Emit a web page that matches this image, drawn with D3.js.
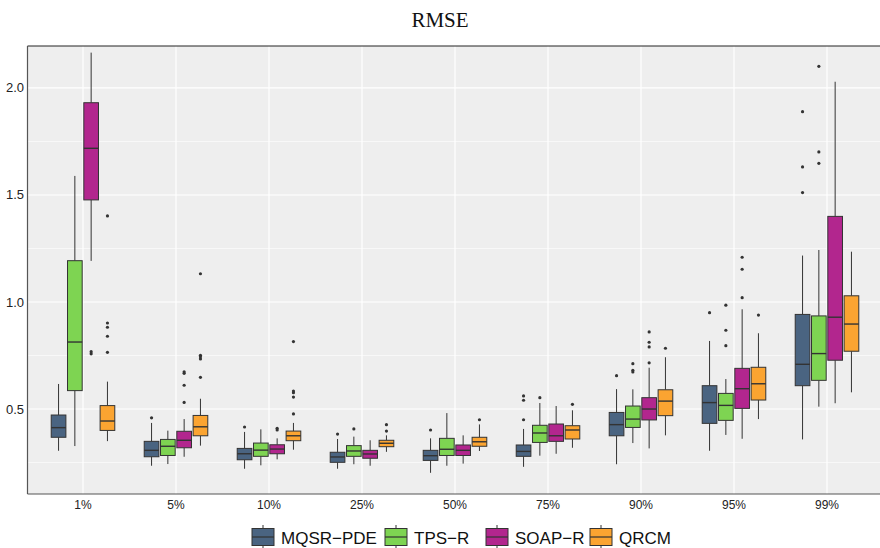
<!DOCTYPE html>
<html>
<head>
<meta charset="utf-8">
<script src="https://cdn.jsdelivr.net/npm/d3@7"></script>
<style>
  body { margin: 0; background: #fff; }
  svg text { font-family: "Liberation Sans", Arial, sans-serif; }
</style>
</head>
<body>
<div id="chart"></div>
<script>
// quantile levels on the x axis
const categories = ["1%", "5%", "10%", "25%", "50%", "75%", "90%", "95%", "99%"];
const methods = ["MQSR−PDE", "TPS−R", "SOAP−R", "QRCM"];
const colors = ["#4A6481", "#7ED452", "#B2268E", "#FBA431"];

// [lower whisker, q1, median, q3, upper whisker] per category
const mqsrStats = [
  [0.305, 0.368, 0.413, 0.472, 0.617],
  [0.235, 0.277, 0.307, 0.349, 0.435],
  [0.221, 0.263, 0.291, 0.316, 0.393],
  [0.221, 0.251, 0.276, 0.298, 0.360],
  [0.202, 0.260, 0.282, 0.307, 0.363],
  [0.230, 0.279, 0.302, 0.332, 0.407],
  [0.242, 0.375, 0.427, 0.484, 0.593],
  [0.305, 0.433, 0.530, 0.609, 0.818],
  [0.358, 0.609, 0.709, 0.942, 1.217]
];
const tpsStats = [
  [0.327, 0.586, 0.813, 1.193, 1.589],
  [0.243, 0.283, 0.326, 0.358, 0.399],
  [0.237, 0.279, 0.308, 0.341, 0.405],
  [0.242, 0.279, 0.304, 0.329, 0.371],
  [0.235, 0.283, 0.312, 0.363, 0.481],
  [0.282, 0.344, 0.388, 0.424, 0.528],
  [0.341, 0.414, 0.453, 0.514, 0.592],
  [0.379, 0.447, 0.517, 0.573, 0.640],
  [0.511, 0.634, 0.759, 0.935, 1.243]
];
const soapStats = [
  [1.192, 1.477, 1.718, 1.931, 2.165],
  [0.277, 0.319, 0.354, 0.396, 0.453],
  [0.265, 0.291, 0.313, 0.333, 0.363],
  [0.235, 0.270, 0.290, 0.307, 0.354],
  [0.245, 0.283, 0.307, 0.332, 0.377],
  [0.291, 0.349, 0.375, 0.430, 0.514],
  [0.316, 0.449, 0.500, 0.553, 0.693],
  [0.361, 0.503, 0.595, 0.690, 0.966],
  [0.527, 0.728, 0.929, 1.400, 2.029]
];
const qrcmStats = [
  [0.350, 0.400, 0.444, 0.516, 0.628],
  [0.329, 0.375, 0.417, 0.470, 0.548],
  [0.310, 0.352, 0.375, 0.397, 0.435],
  [0.300, 0.324, 0.340, 0.354, 0.377],
  [0.304, 0.326, 0.347, 0.368, 0.428],
  [0.319, 0.360, 0.402, 0.422, 0.494],
  [0.377, 0.469, 0.537, 0.590, 0.742],
  [0.453, 0.542, 0.618, 0.695, 0.854],
  [0.578, 0.770, 0.897, 1.029, 1.235]
];

// outliers per category
const mqsrOut = [[], [0.459], [0.416], [0.383], [0.402], [0.561, 0.541, 0.450], [0.656], [0.950], [1.889, 1.631, 1.511]];
const tpsOut = [[], [], [], [0.407], [], [0.553], [0.712, 0.681, 0.673], [0.985, 0.868, 0.796], [2.101, 1.701, 1.648]];
const soapOut = [[0.768, 0.758], [0.674, 0.667, 0.611, 0.531], [0.410, 0.402], [], [], [], [0.860, 0.812, 0.790, 0.716], [1.209, 1.153, 1.020], []];
const qrcmOut = [[1.402, 0.902, 0.882, 0.840, 0.765], [1.132, 0.751, 0.744, 0.734, 0.648], [0.815, 0.584, 0.576, 0.556, 0.477], [0.427, 0.397], [0.450], [0.522], [0.784], [0.939], []];

const yTicks = [0.5, 1.0, 1.5, 2.0];
const yMinor = [0.25, 0.75, 1.25, 1.75];

const allStats = [mqsrStats, tpsStats, soapStats, qrcmStats];
const allOut = [mqsrOut, tpsOut, soapOut, qrcmOut];

const W = 880, H = 548;
const panel = { l: 27.5, t: 46, r: 880, b: 494 };

const svg = d3.select("#chart").append("svg")
  .attr("width", W).attr("height", H);

const x = d3.scalePoint().domain(categories).range([83, 827]);
const dodge = d3.scaleBand().domain(methods).range([-32.6, 32.6]);
const boxW = dodge.bandwidth() * 0.9;
const y = d3.scaleLinear().domain([0.103, 2.196]).range([panel.b, panel.t]);

// panel background
svg.append("rect")
  .attr("x", panel.l).attr("y", panel.t)
  .attr("width", panel.r - panel.l).attr("height", panel.b - panel.t)
  .attr("fill", "#EEEEEE");

const grid = svg.append("g");
grid.selectAll(".minor").data(yMinor).join("line")
  .attr("x1", panel.l).attr("x2", panel.r)
  .attr("y1", (d) => y(d)).attr("y2", (d) => y(d))
  .attr("stroke", "#fff").attr("stroke-width", 0.6);
grid.selectAll(".major").data(yTicks).join("line")
  .attr("x1", panel.l).attr("x2", panel.r)
  .attr("y1", (d) => y(d)).attr("y2", (d) => y(d))
  .attr("stroke", "#fff").attr("stroke-width", 1.2);
grid.selectAll(".vert").data(categories).join("line")
  .attr("x1", (d) => x(d)).attr("x2", (d) => x(d))
  .attr("y1", panel.t).attr("y2", panel.b)
  .attr("stroke", "#fff").attr("stroke-width", 1.2);

// boxes
const boxes = svg.append("g");
methods.forEach((m, mi) => {
  const stats = allStats[mi];
  const g = boxes.append("g");
  categories.forEach((c, ci) => {
    const [lo, q1, med, q3, hi] = stats[ci];
    const cx = x(c) + dodge(m) + dodge.bandwidth() / 2;
    g.append("line")
      .attr("x1", cx).attr("x2", cx)
      .attr("y1", y(hi)).attr("y2", y(q3))
      .attr("stroke", "#333").attr("stroke-width", 1);
    g.append("line")
      .attr("x1", cx).attr("x2", cx)
      .attr("y1", y(q1)).attr("y2", y(lo))
      .attr("stroke", "#333").attr("stroke-width", 1);
    g.append("rect")
      .attr("x", cx - boxW / 2).attr("y", y(q3))
      .attr("width", boxW).attr("height", y(q1) - y(q3))
      .attr("fill", colors[mi])
      .attr("stroke", "#333").attr("stroke-width", 1);
    g.append("line")
      .attr("x1", cx - boxW / 2).attr("x2", cx + boxW / 2)
      .attr("y1", y(med)).attr("y2", y(med))
      .attr("stroke", "#333").attr("stroke-width", 1.4);
    g.selectAll(null).data(allOut[mi][ci]).join("circle")
      .attr("cx", cx).attr("cy", (d) => y(d))
      .attr("r", 1.6).attr("fill", "#333");
  });
});

// axis lines
svg.append("line")
  .attr("x1", panel.l).attr("x2", panel.r)
  .attr("y1", panel.t).attr("y2", panel.t)
  .attr("stroke", "#222").attr("stroke-width", 1);
svg.append("line")
  .attr("x1", panel.l).attr("x2", panel.l)
  .attr("y1", panel.t).attr("y2", panel.b)
  .attr("stroke", "#555").attr("stroke-width", 1.2);
svg.append("line")
  .attr("x1", panel.l).attr("x2", panel.r)
  .attr("y1", panel.b).attr("y2", panel.b)
  .attr("stroke", "#555").attr("stroke-width", 1.2);

// tick labels
svg.append("g").selectAll("text").data(yTicks).join("text")
  .attr("x", 24).attr("y", (d) => y(d) + 4.5)
  .attr("text-anchor", "end")
  .attr("font-size", 13).attr("fill", "#222")
  .text((d) => d.toFixed(1));
svg.append("g").selectAll("text").data(categories).join("text")
  .attr("x", (d) => x(d)).attr("y", 509)
  .attr("text-anchor", "middle")
  .attr("font-size", 12).attr("fill", "#222")
  .text((d) => d);

// title
svg.append("text")
  .attr("x", 440).attr("y", 27)
  .attr("text-anchor", "middle")
  .attr("font-size", 21).attr("fill", "#111")
  .style("font-family", "'Liberation Serif', 'DejaVu Serif', serif")
  .text("RMSE");

// legend
const legendX = [252, 385, 486, 590];
const legend = svg.append("g");
methods.forEach((m, i) => {
  const g = legend.append("g").attr("transform", `translate(${legendX[i]}, 537)`);
  g.append("line").attr("x1", 11).attr("x2", 11).attr("y1", -12).attr("y2", 12)
    .attr("stroke", "#333").attr("stroke-width", 1);
  g.append("rect").attr("x", 0).attr("y", -8.5).attr("width", 22).attr("height", 17)
    .attr("fill", colors[i]).attr("stroke", "#333").attr("stroke-width", 1);
  g.append("line").attr("x1", 0).attr("x2", 22).attr("y1", 0).attr("y2", 0)
    .attr("stroke", "#333").attr("stroke-width", 1.2);
  g.append("text").attr("x", 29).attr("y", 6.5)
    .attr("font-size", 17).attr("fill", "#111")
    .text(m);
});
</script>
</body>
</html>
